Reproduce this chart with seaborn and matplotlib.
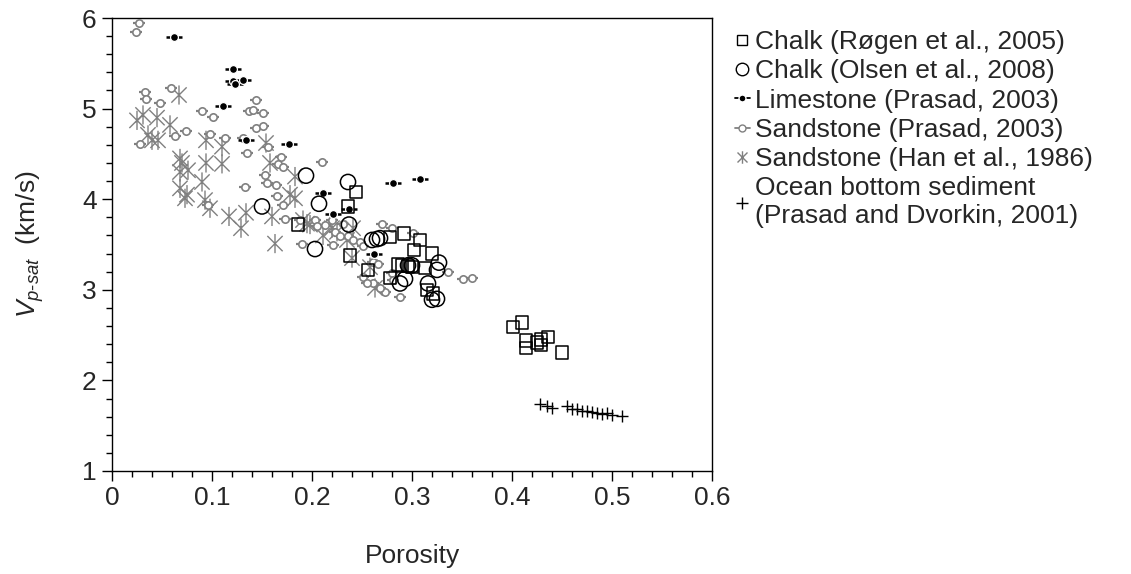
import numpy as np
import matplotlib
matplotlib.use("Agg")
import matplotlib.pyplot as plt
from matplotlib.path import Path
from matplotlib.lines import Line2D
from matplotlib.ticker import MultipleLocator, FuncFormatter
import seaborn as sns

# Chalk (Røgen et al., 2005)
rogen_phi = [0.186, 0.236, 0.244, 0.238, 0.256, 0.278, 0.278, 0.292, 0.286, 0.290,
             0.296, 0.300, 0.302, 0.308, 0.320, 0.313, 0.315, 0.321,
             0.401, 0.410, 0.414, 0.414, 0.425, 0.429, 0.429, 0.436, 0.450]
rogen_vp = [3.72, 3.92, 4.08, 3.38, 3.22, 3.13, 3.58, 3.62, 3.28, 3.27,
            3.26, 3.25, 3.44, 3.55, 3.40, 3.24, 3.00, 2.96,
            2.59, 2.64, 2.44, 2.36, 2.42, 2.45, 2.39, 2.48, 2.31]

# Chalk (Olsen et al., 2008)
olsen_phi = [0.150, 0.194, 0.207, 0.236, 0.237, 0.203, 0.260, 0.265, 0.268, 0.296,
             0.288, 0.293, 0.327, 0.325, 0.316, 0.320, 0.325, 0.300]
olsen_vp = [3.92, 4.26, 3.95, 4.19, 3.72, 3.45, 3.55, 3.56, 3.57, 3.27,
            3.07, 3.12, 3.30, 3.22, 3.07, 2.89, 2.90, 3.27]

# Limestone (Prasad, 2003)
lime_phi = [0.062, 0.121, 0.121, 0.123, 0.131, 0.111, 0.134, 0.177, 0.211, 0.221,
            0.237, 0.281, 0.308, 0.262]
lime_vp = [5.79, 5.44, 5.30, 5.27, 5.32, 5.03, 4.65, 4.61, 4.07, 3.84,
           3.89, 4.18, 4.22, 3.40]

# Sandstone (Prasad, 2003)
sand_phi = [0.027, 0.024, 0.033, 0.034, 0.059, 0.048, 0.090, 0.101, 0.144, 0.137,
            0.141, 0.151, 0.144, 0.151, 0.063, 0.074, 0.028, 0.098, 0.113, 0.131,
            0.135, 0.156, 0.169, 0.166, 0.171, 0.153, 0.155, 0.164, 0.133, 0.165,
            0.171, 0.096, 0.173, 0.190, 0.210, 0.188, 0.203, 0.205, 0.213, 0.220,
            0.231, 0.223, 0.228, 0.236, 0.241, 0.221, 0.248, 0.251, 0.270, 0.280,
            0.251, 0.261, 0.273, 0.280, 0.281, 0.255, 0.268, 0.288, 0.261, 0.266,
            0.301, 0.336, 0.351, 0.360]
sand_vp = [5.94, 5.84, 5.18, 5.11, 5.23, 5.06, 4.97, 4.91, 5.09, 4.97,
           4.98, 4.95, 4.79, 4.81, 4.70, 4.75, 4.61, 4.72, 4.68, 4.68,
           4.51, 4.58, 4.47, 4.39, 4.36, 4.27, 4.18, 4.16, 4.14, 4.03,
           3.94, 3.94, 3.78, 3.51, 4.41, 3.77, 3.77, 3.70, 3.72, 3.77,
           3.73, 3.64, 3.59, 3.59, 3.55, 3.49, 3.53, 3.48, 3.73, 3.68,
           3.14, 3.07, 2.98, 3.18, 3.11, 3.07, 3.02, 2.92, 3.31, 3.29,
           3.63, 3.20, 3.12, 3.13]

# Sandstone (Han et al., 1986)
han_phi = [0.067, 0.031, 0.025, 0.045, 0.058, 0.036, 0.040, 0.046, 0.094, 0.110,
           0.154, 0.068, 0.070, 0.094, 0.110, 0.158, 0.068, 0.076, 0.090, 0.068,
           0.075, 0.073, 0.093, 0.098, 0.117, 0.129, 0.134, 0.160, 0.163, 0.183,
           0.178, 0.183, 0.195, 0.191, 0.198, 0.220, 0.225, 0.211, 0.241, 0.235,
           0.263, 0.258, 0.240]
han_vp = [5.15, 4.93, 4.87, 4.90, 4.82, 4.71, 4.65, 4.65, 4.65, 4.58,
          4.62, 4.45, 4.40, 4.40, 4.39, 4.40, 4.30, 4.32, 4.19, 4.12,
          4.05, 4.01, 3.99, 3.90, 3.81, 3.68, 3.85, 3.81, 3.51, 4.25,
          4.05, 4.01, 3.73, 3.77, 3.72, 3.68, 3.64, 3.60, 3.68, 3.55,
          3.02, 3.25, 3.35]

# Ocean bottom sediment (Prasad and Dvorkin, 2001)
ocean_phi = [0.428, 0.435, 0.440, 0.455, 0.460, 0.465, 0.470, 0.475, 0.480, 0.485,
             0.490, 0.495, 0.500, 0.510]
ocean_vp = [1.74, 1.72, 1.70, 1.72, 1.68, 1.68, 1.66, 1.66, 1.65, 1.64,
            1.63, 1.64, 1.62, 1.61]

phi_err_sand = 0.006
phi_err_lime = 0.008

labels = ["Chalk (Røgen et al., 2005)",
          "Chalk (Olsen et al., 2008)",
          "Limestone (Prasad, 2003)",
          "Sandstone (Prasad, 2003)",
          "Sandstone (Han et al., 1986)",
          "Ocean bottom sediment\n(Prasad and Dvorkin, 2001)"]

sns.set_style("ticks")
plt.rcParams["font.family"] = ["Liberation Sans", "DejaVu Sans"]
plt.rcParams["mathtext.fontset"] = "custom"
plt.rcParams["mathtext.rm"] = "Liberation Sans"
plt.rcParams["mathtext.it"] = "Liberation Sans:italic"
plt.rcParams["font.size"] = 19

GRAY = "#808080"

# asterisk marker: an "x" with a vertical stroke
star = Path([(-1, -1), (1, 1), (-1, 1), (1, -1), (0, -1.25), (0, 1.25)],
            [Path.MOVETO, Path.LINETO, Path.MOVETO, Path.LINETO, Path.MOVETO, Path.LINETO])

fig = plt.figure(figsize=(11.31, 5.74), dpi=100)
ax = fig.add_axes([112 / 1131, 1 - 471 / 574, 600 / 1131, 453 / 574])

sns.scatterplot(x=han_phi, y=han_vp, marker=star, s=190, facecolor="none",
                edgecolor=GRAY, color=GRAY, linewidth=1.0, ax=ax, zorder=2)

ax.errorbar(sand_phi, sand_vp, xerr=phi_err_sand, fmt="none", ecolor=GRAY,
            elinewidth=1.6, capsize=0, zorder=3)
sns.scatterplot(x=sand_phi, y=sand_vp, marker="o", s=28, facecolor="white",
                edgecolor=GRAY, linewidth=1.2, ax=ax, zorder=3)

ax.errorbar(lime_phi, lime_vp, xerr=phi_err_lime, fmt="none", ecolor="black",
            elinewidth=1.8, capsize=0, zorder=4)
sns.scatterplot(x=lime_phi, y=lime_vp, marker="o", s=32, color="black",
                edgecolor="white", linewidth=0.9, ax=ax, zorder=4)

sns.scatterplot(x=olsen_phi, y=olsen_vp, marker="o", s=120, facecolor="none",
                edgecolor="black", linewidth=1.1, ax=ax, zorder=5)
sns.scatterplot(x=rogen_phi, y=rogen_vp, marker="s", s=80, facecolor="none",
                edgecolor="black", linewidth=1.1, ax=ax, zorder=5)
sns.scatterplot(x=ocean_phi, y=ocean_vp, marker="+", s=70, color="black",
                linewidth=1.0, ax=ax, zorder=5)

ax.set_xlim(0, 0.6)
ax.set_ylim(1, 6)
ax.xaxis.set_major_locator(MultipleLocator(0.1))
ax.xaxis.set_minor_locator(MultipleLocator(0.02))
ax.yaxis.set_major_locator(MultipleLocator(1))
ax.yaxis.set_minor_locator(MultipleLocator(0.2))
ax.xaxis.set_major_formatter(FuncFormatter(lambda v, p: "0" if abs(v) < 1e-9 else f"{v:g}"))
ax.tick_params(which="major", direction="out", length=7, width=1.0,
               labelsize=19, pad=4, color="black")
ax.tick_params(which="minor", direction="out", length=4, width=1.0, color="black")
for s in ax.spines.values():
    s.set_visible(True)
    s.set_linewidth(1.0)
    s.set_color("black")

ax.set_xlabel("Porosity", fontsize=19, labelpad=24)
ax.set_ylabel("$V_{p\u2010sat}$  (km/s)", fontsize=19, labelpad=26)

handles = [
    Line2D([], [], marker="s", ls="none", mfc="none", mec="black", ms=7, mew=1.0),
    Line2D([], [], marker="o", ls="none", mfc="none", mec="black", ms=9, mew=1.0),
    Line2D([], [], marker="o", ls="-", lw=1.3, color="black", mfc="black", mec="white", ms=5),
    Line2D([], [], marker="o", ls="-", lw=1.3, color=GRAY, mfc="white", mec=GRAY, ms=5),
    Line2D([], [], marker=star, ls="none", mfc="none", mec=GRAY, ms=9, mew=1.0),
    Line2D([], [], marker="+", ls="none", color="black", ms=9, mew=1.0),
]
fig.legend(handles, labels, loc="upper left", bbox_to_anchor=(735 / 1131, 1 - 30 / 574),
           frameon=False, fontsize=19, handlelength=0.55, handletextpad=0.2,
           labelspacing=0.2, borderpad=0, borderaxespad=0)

fig.savefig("out.png", dpi=100)
